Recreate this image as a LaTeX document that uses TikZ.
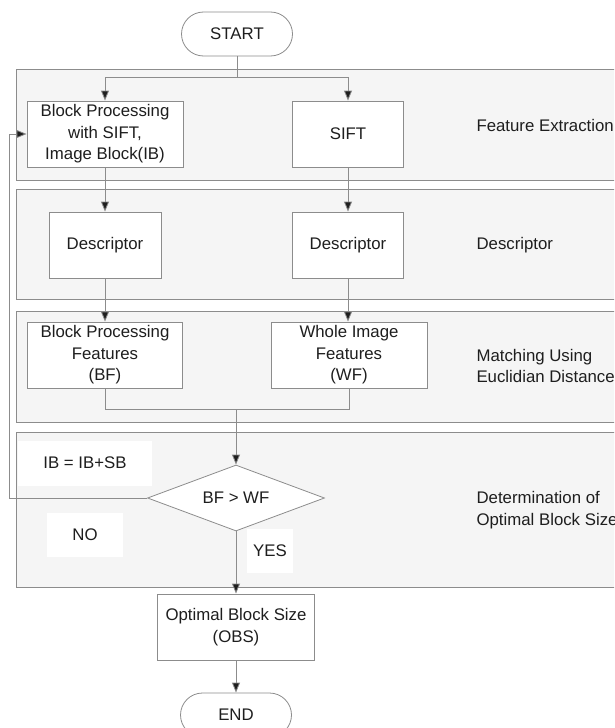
\documentclass[tikz,border=0pt]{standalone}
\usepackage{fontspec}
\setmainfont{Liberation Sans}
\usetikzlibrary{arrows.meta,shapes.geometric}
\definecolor{bandfill}{HTML}{F5F5F5}
\definecolor{edge}{HTML}{8C8C8C}
\definecolor{ink}{HTML}{1E1E1E}
\begin{document}
\begin{tikzpicture}[x=1pt, y=-1pt,
    font=\fontsize{16.8}{21.5}\selectfont, text=ink,
    band/.style={draw=edge, fill=bandfill, line width=0.8pt},
    box/.style={draw=edge, fill=white, line width=0.8pt, align=center, inner sep=2pt},
    term/.style={draw=edge, fill=white, line width=0.8pt, rounded corners=22pt, minimum width=111pt, minimum height=44pt},
    tag/.style={fill=white, inner sep=0pt, align=center},
    side/.style={anchor=west, align=left},
    link/.style={draw=edge, line width=0.8pt},
    arrow/.style={link, -{Triangle[length=10pt,width=8pt,fill=ink]}}]
    \useasboundingbox (0,0) rectangle (614,728);
    \clip (0,0) rectangle (614,728);

    \draw[band] (16,69) rectangle (640,180);
    \draw[band] (16,189) rectangle (640,299);
    \draw[band] (16,311) rectangle (640,422);
    \draw[band] (16,432) rectangle (640,587);

    \node[term] (start) at (237,34) {START};
    \node[box, minimum width=156pt, minimum height=66pt] (bp) at (105,134) {Block Processing\\with SIFT,\\Image Block(IB)};
    \node[box, minimum width=111pt, minimum height=66pt] (sift) at (348,134) {SIFT};
    \node[box, minimum width=112pt, minimum height=66pt] (descl) at (105,245) {Descriptor};
    \node[box, minimum width=111pt, minimum height=66pt] (descr) at (348,245) {Descriptor};
    \node[box, minimum width=155pt, minimum height=66pt] (bf) at (105,355) {Block Processing\\Features\\(BF)};
    \node[box, minimum width=156pt, minimum height=66pt] (wf) at (349,355) {Whole Image\\Features\\(WF)};
    \node[draw=edge, fill=white, line width=0.8pt, diamond, aspect=2.7, inner sep=0pt,
          minimum width=177pt, minimum height=66pt] (test) at (236,498) {BF > WF};
    \node[box, minimum width=157pt, minimum height=66pt] (obs) at (236,627) {Optimal Block Size\\(OBS)};
    \node[term] (stop) at (236,715) {END};

    \node[tag, minimum width=134pt, minimum height=45pt] (ibl) at (85,463) {IB = IB+SB};
    \node[tag, minimum width=76pt, minimum height=44pt] (nol) at (85,535) {NO};
    \node[tag, minimum width=46pt, minimum height=44pt] (yesl) at (270,551) {YES};

    \node[side] (fe) at (473,125) {Feature Extraction};
    \node[side] (de) at (473,245) {Descriptor};
    \node[side] (me) at (473,366) {Matching Using\\Euclidian Distance};
    \node[side] (ob) at (473,510) {Determination of\\Optimal Block Size};

    \coordinate (fork) at (237,77);
    \coordinate (merge) at (236,409);
    \coordinate (back) at (9,498);

    \draw[link] (start) -- (fork);
    \draw[arrow] (fork) -| (bp);
    \draw[arrow] (fork) -| (sift);
    \draw[arrow] (bp) -- (descl);
    \draw[arrow] (sift) -- (descr);
    \draw[arrow] (descl) -- (bf);
    \draw[arrow] (descr) -- (descr |- wf.north);
    \draw[link] (bf) |- (merge);
    \draw[link] (wf) |- (merge);
    \draw[arrow] (merge) -- (test);
    \draw[arrow] (test) -- (obs);
    \draw[arrow] (obs) -- (stop);
    \draw[arrow] (test) -- (back) |- (bp);
\end{tikzpicture}
\end{document}
